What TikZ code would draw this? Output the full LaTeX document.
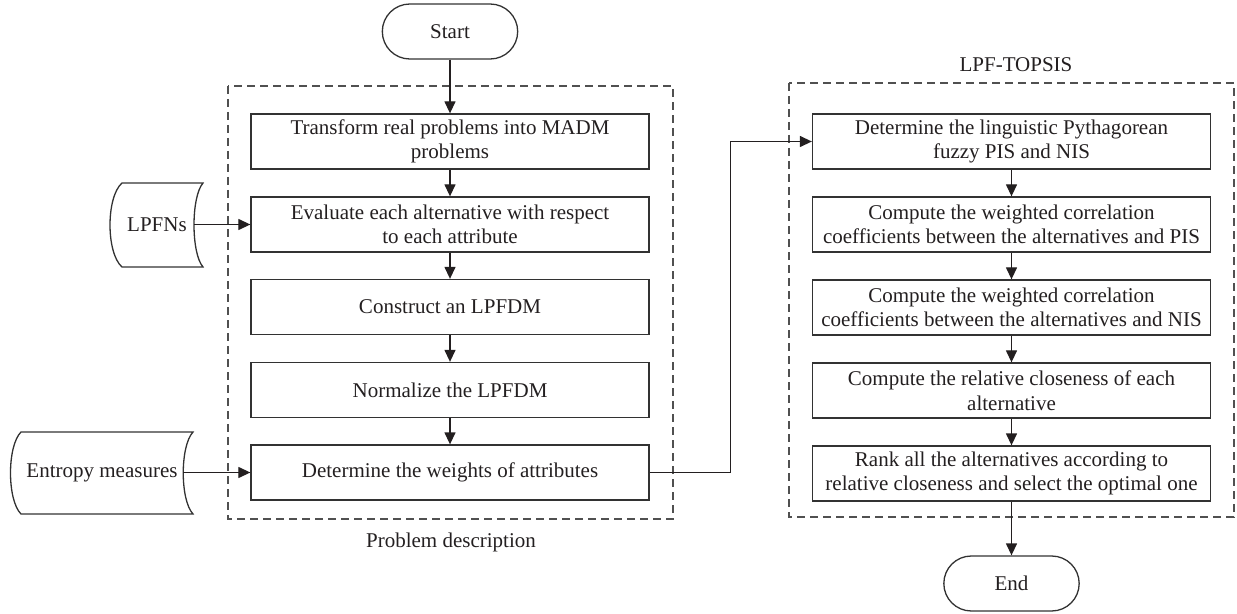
\documentclass[tikz,border=0pt]{standalone}
\usepackage{fontspec}
\setmainfont{Liberation Serif}
\usetikzlibrary{arrows.meta,shapes.misc}
\definecolor{ink}{RGB}{35,31,32}
\definecolor{edgec}{RGB}{50,50,50}
\definecolor{dashc}{RGB}{80,80,80}
\begin{document}
\begin{tikzpicture}[x=1bp,y=-1bp,
  font=\fontsize{21bp}{24.5bp}\selectfont, text=ink,
  box/.style={draw=edgec, line width=1.3bp, minimum width=398bp, minimum height=55bp, align=center, inner sep=0pt},
  term/.style={draw=edgec, line width=1.3bp, rounded rectangle, minimum width=142bp, minimum height=55bp},
  arr/.style={draw=ink, line width=1.3bp, -{Triangle[length=12bp,width=11bp]}},
  frame/.style={draw=dashc, line width=1.3bp, dash pattern=on 8bp off 5bp},
  store/.style={draw=edgec, line width=1.3bp},
  lbl/.style={inner sep=0pt}
]
\useasboundingbox (0,0) rectangle (1237,614);

% frames
\draw[frame] (228,86) rectangle (673,519);
\draw[frame] (789,83) rectangle (1234,517);
\node[lbl] (pdlabel) at (451,542) {Problem description};
\node[lbl] (toplabel) at (1016,65) {LPF-TOPSIS};

% terminals
\node[term] (start) at (450,31.5) {Start};
\node[term] (end) at (1011.5,583.5) {End};

% left column
\node[box] (L1) at (450,141.5) {Transform real problems into MADM\\problems};
\node[box] (L2) at (450,224.5) {Evaluate each alternative with respect\\to each attribute};
\node[box] (L3) at (450,307) {Construct an LPFDM};
\node[box] (L4) at (450,390) {Normalize the LPFDM};
\node[box] (L5) at (450,472.5) {Determine the weights of attributes};

% right column
\node[box] (R1) at (1011.5,141.5) {Determine the linguistic Pythagorean\\fuzzy PIS and NIS};
\node[box] (R2) at (1011.5,224.5) {Compute the weighted correlation\\coefficients between the alternatives and PIS};
\node[box] (R3) at (1011.5,307.5) {Compute the weighted correlation\\coefficients between the alternatives and NIS};
\node[box] (R4) at (1011.5,390.5) {Compute the relative closeness of each\\alternative};
\node[box] (R5) at (1011.5,473.5) {Rank all the alternatives according to\\relative closeness and select the optimal one};

% stored data inputs
\draw[store] (122,183) -- (203,183) .. controls (191,197) and (191,253) .. (203,267) -- (122,267) .. controls (106,253) and (106,197) .. (122,183) -- cycle;
\node[lbl] (lpfns) at (157,225) {LPFNs};
\coordinate (lpfnsR) at (194,224.5);

\draw[store] (21,432) -- (193,432) .. controls (180,446) and (180,500) .. (193,514) -- (21,514) .. controls (7,500) and (7,446) .. (21,432) -- cycle;
\node[lbl] (entropy) at (102,473) {Entropy measures};
\coordinate (entR) at (183,472.5);

% connectors
\draw[arr] (start.south) -- (L1.north);
\draw[arr] (L1.south) -- (L2.north);
\draw[arr] (L2.south) -- (L3.north);
\draw[arr] (L3.south) -- (L4.north);
\draw[arr] (L4.south) -- (L5.north);
\draw[arr] (lpfnsR) -- (L2.west);
\draw[arr] (entR) -- (L5.west);
\draw[arr] (L5.east) -- ++(81,0) |- (R1.west);
\draw[arr] (R1.south) -- (R2.north);
\draw[arr] (R2.south) -- (R3.north);
\draw[arr] (R3.south) -- (R4.north);
\draw[arr] (R4.south) -- (R5.north);
\draw[arr] (R5.south) -- (end.north);
\end{tikzpicture}
\end{document}
